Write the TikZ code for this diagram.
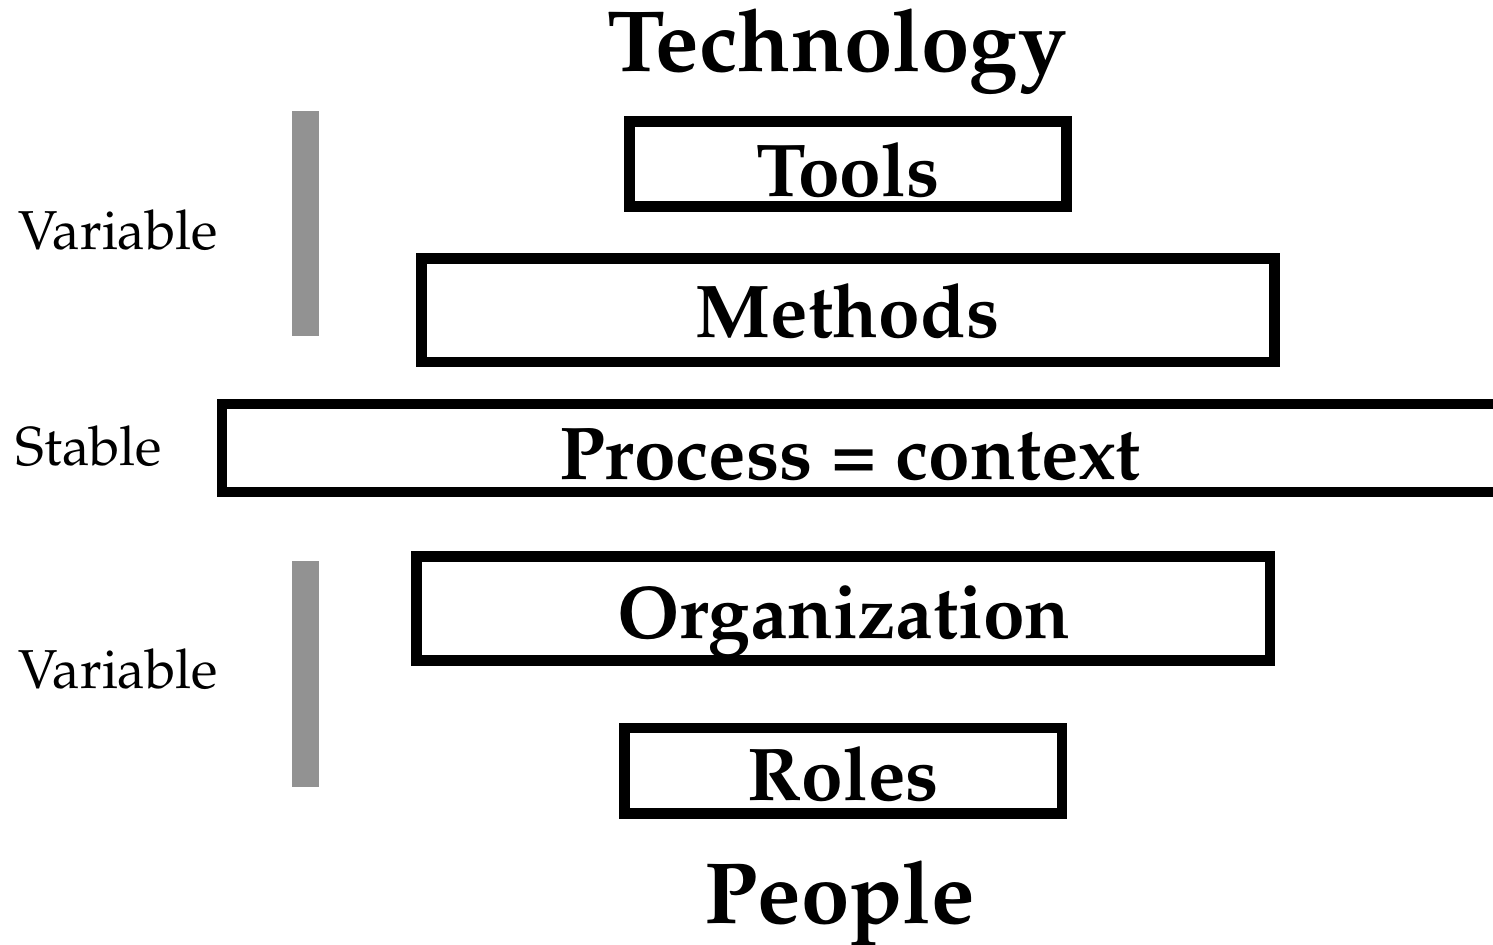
\documentclass[tikz,border=0pt]{standalone}
\usepackage[T1]{fontenc}
\usepackage{mathpazo}
\begin{document}
\begin{tikzpicture}[x=0.02cm,y=-0.02cm,
  box/.style={draw=black,line width=0.21cm,rectangle,inner sep=0pt,outer sep=0pt},
  bigtxt/.style={inner sep=0pt,anchor=base,font=\fontsize{42.6}{48}\selectfont\bfseries},
  titletxt/.style={inner sep=0pt,anchor=base,font=\fontsize{49.5}{56}\selectfont\bfseries},
  sidetxt/.style={inner sep=0pt,anchor=base west,font=\fontsize{31.2}{36}\selectfont},
  bar/.style={fill=bargray,draw=none}]
\definecolor{bargray}{HTML}{929292}
\useasboundingbox (0,0) rectangle (1493,945);
\clip (0,0) rectangle (1493,945);
% boxes
\node[box,minimum width=437*0.02cm,minimum height=85*0.02cm] (toolsbox) at (848,164) {};
\node[box,minimum width=853*0.02cm,minimum height=103.5*0.02cm] (methodsbox) at (848,310.25) {};
\node[box,minimum width=1288*0.02cm,minimum height=88*0.02cm] (processbox) at (866,448) {};
\node[box,minimum width=853.5*0.02cm,minimum height=104*0.02cm] (orgbox) at (843.25,608.5) {};
\node[box,minimum width=437.5*0.02cm,minimum height=85.5*0.02cm] (rolesbox) at (843.25,770.75) {};
% texts
\node[titletxt] (technology) at (837,72) {Technology};
\node[bigtxt] (tools) at (848,197) {Tools};
\node[bigtxt] (methods) at (847.5,338) {Methods};
\node[bigtxt] (process) at (850,479) {Process = context};
\node[bigtxt] (org) at (844,638) {Organization};
\node[bigtxt] (roles) at (843.5,800) {Roles};
\node[titletxt] (people) at (840,923) {People};
% side labels
\node[sidetxt] (var1) at (18,250) {Variable};
\node[sidetxt] (stable) at (15,465) {Stable};
\node[sidetxt] (var2) at (18,688) {Variable};
% bars
\fill[bar] (292,111) rectangle (319,336);
\fill[bar] (292,561) rectangle (319,787);
\end{tikzpicture}
\end{document}
